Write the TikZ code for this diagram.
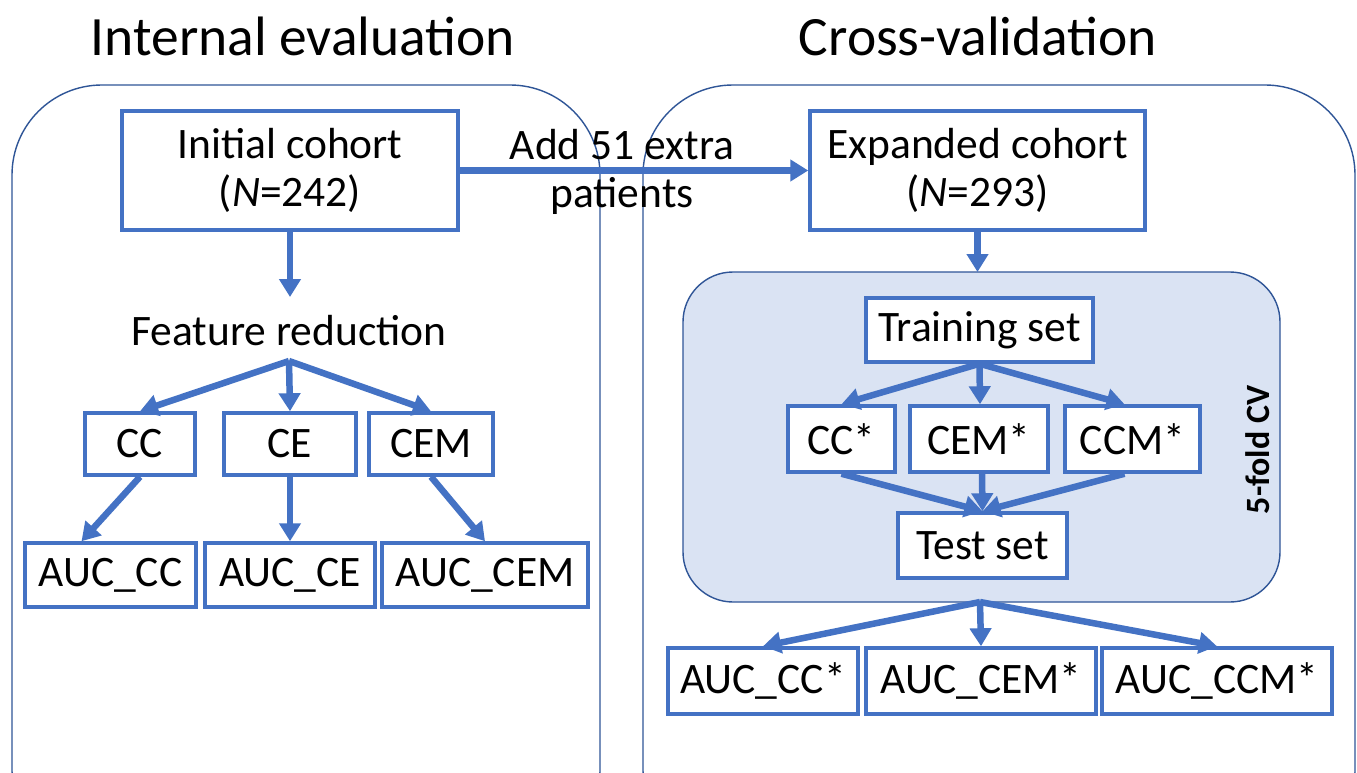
\documentclass[tikz,border=0pt]{standalone}
\usepackage{fontspec}
\setmainfont{Carlito}
\usetikzlibrary{arrows.meta}
\definecolor{boxblue}{HTML}{4472C4}
\definecolor{panelblue}{HTML}{2F5597}
\definecolor{innerfill}{HTML}{DAE3F3}
\begin{document}
\begin{tikzpicture}[x=1pt,y=-1pt,
  bx/.style={draw=boxblue,line width=3.5pt,fill=white,inner sep=0pt,font=\fontsize{43.5}{48}\selectfont,align=center},
  arr/.style={draw=boxblue,line width=6.5pt,-{Triangle[length=18pt,width=21pt]}},
  panel/.style={draw=panelblue,line width=1.4pt,rounded corners=90pt},
  title/.style={font=\fontsize{55.5}{60}\selectfont,inner sep=0pt},
  lbl/.style={font=\fontsize{43.5}{48}\selectfont,inner sep=0pt,align=center}]
\useasboundingbox (0,0) rectangle (1357,773);
\clip (0,0) rectangle (1357,773);
\fill[white] (0,0) rectangle (1357,773);
% panels
\draw[panel] (12,85) rectangle (600,860);
\draw[panel] (643,85) rectangle (1355,860);
\draw[draw=panelblue,line width=1.4pt,fill=innerfill,rounded corners=50pt] (683,272) rectangle (1280,602);
% titles
\node[title] (t1) at (303,36) {Internal evaluation};
\node[title] (t2) at (978,36) {Cross-validation};
% left
\node[bx,minimum width=336pt,minimum height=119pt] (init) at (290,170.5) {Initial cohort\\(\textit{N}=242)};
\node[lbl] (fr) at (289,331) {Feature reduction};
\coordinate (frs) at (289,361);
\node[bx,minimum width=110pt,minimum height=62pt] (cc) at (140,444) {CC};
\node[bx,minimum width=132pt,minimum height=62pt] (ce) at (290,444) {CE};
\node[bx,minimum width=124pt,minimum height=62pt] (cem) at (431,444) {CEM};
\node[bx,minimum width=171pt,minimum height=64pt] (acc) at (110.5,575) {AUC\_CC};
\node[bx,minimum width=170pt,minimum height=64pt] (ace) at (290,575) {AUC\_CE};
\node[bx,minimum width=206pt,minimum height=64pt] (acem) at (485,575) {AUC\_CEM};
\draw[arr] (init.south) -- (290,297);
\draw[arr] (frs) -- (cc.north);
\draw[arr] (frs) -- (ce.north);
\draw[arr] (frs) -- (cem.north);
\draw[arr] (cc.south) -- ([xshift=-29pt]acc.north);
\draw[arr] (ce.south) -- (ace.north);
\draw[arr] (cem.south) -- (acem.north);
% right
\node[bx,minimum width=335pt,minimum height=119pt] (exp) at (977.5,170.5) {Expanded cohort\\(\textit{N}=293)};
\draw[arr] (init.east) -- (exp.west);
\node[lbl] (add) at (622,172) {Add 51 extra\\patients};
\coordinate (inner-top) at (977.5,272);
\coordinate (inner-bot) at (980,602);
\draw[arr] (exp.south) -- (inner-top);
\node[bx,minimum width=227pt,minimum height=64pt] (train) at (979.5,330) {Training set};
\node[bx,minimum width=107pt,minimum height=66pt] (ccs) at (841.5,439) {CC*};
\node[bx,minimum width=138pt,minimum height=66pt] (cems) at (979,439) {CEM*};
\node[bx,minimum width=135pt,minimum height=66pt] (ccms) at (1132.5,439) {CCM*};
\node[bx,minimum width=169pt,minimum height=65pt] (test) at (982.5,545.5) {Test set};
\node[font=\bfseries\fontsize{34}{38}\selectfont,rotate=90,inner sep=0pt] (cv) at (1258,450) {5-fold CV};
\draw[arr] (train.south) -- (ccs.north);
\draw[arr] (train.south) -- ([xshift=1pt]cems.north);
\draw[arr] (train.south) -- ([xshift=-8pt]ccms.north);
\draw[arr] (ccs.south) -- (test.north);
\draw[arr] ([xshift=3pt]cems.south) -- (test.north);
\draw[arr] ([xshift=-8pt]ccms.south) -- (test.north);
\node[bx,minimum width=190pt,minimum height=66pt] (accs) at (763,681) {AUC\_CC*};
\node[bx,minimum width=230pt,minimum height=66pt] (acems) at (981,681) {AUC\_CEM*};
\node[bx,minimum width=230pt,minimum height=66pt] (accms) at (1217,681) {AUC\_CCM*};
\draw[arr] (inner-bot) -- (accs.north);
\draw[arr] (inner-bot) -- (acems.north);
\draw[arr] (inner-bot) -- (accms.north);
\end{tikzpicture}
\end{document}
